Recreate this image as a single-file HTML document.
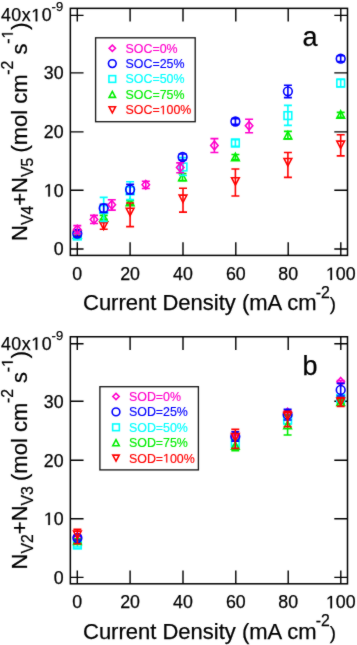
<!DOCTYPE html>
<html><head><meta charset="utf-8"><style>
html,body{margin:0;padding:0;background:#fff;width:357px;height:645px;overflow:hidden}
svg{display:block;will-change:transform}
text{font-family:"Liberation Sans", sans-serif;fill:#000;stroke:#000;stroke-width:0.25px}
.tk{font-size:17.8px}
.sup9{font-size:13px}
.ttl{font-size:22px}
.ts{font-size:15.8px}
.pl{font-size:27px}
.lg{font-size:12.4px;stroke-width:0.15px}
</style></head><body>
<svg width="357" height="645" viewBox="0 0 357 645">
<defs><filter id="soft" x="0" y="0" width="357" height="645" filterUnits="userSpaceOnUse" color-interpolation-filters="sRGB"><feConvolveMatrix order="3" kernelMatrix="1 2 1 2 28 2 1 2 1" divisor="40" edgeMode="duplicate"/></filter></defs>
<g filter="url(#soft)">
<rect width="357" height="645" fill="#fff"/>
<rect x="70.35" y="8.35" width="277.15" height="247.05" fill="none" stroke="#000" stroke-width="1.5"/>
<path d="M70.35 249.00H83.55M347.5 249.00H334.30M70.35 190.30H83.55M347.5 190.30H334.30M70.35 131.90H83.55M347.5 131.90H334.30M70.35 72.90H83.55M347.5 72.90H334.30M70.35 15.40H83.55M347.5 15.40H334.30M77.30 255.40V242.20M77.30 8.35V21.55M130.10 255.40V242.20M130.10 8.35V21.55M183.00 255.40V242.20M183.00 8.35V21.55M235.80 255.40V242.20M235.80 8.35V21.55M288.20 255.40V242.20M288.20 8.35V21.55M340.80 255.40V242.20M340.80 8.35V21.55" stroke="#000" stroke-width="1.4" fill="none"/>
<text x="63.6" y="255.20" text-anchor="end" class="tk o1">0</text>
<text x="63.6" y="196.50" text-anchor="end" class="tk o1"> 0</text>
<text x="63.6" y="138.10" text-anchor="end" class="tk o1">20</text>
<text x="63.6" y="79.10" text-anchor="end" class="tk o1">30</text>
<text x="0.9" y="21.30" class="tk o1" style="letter-spacing:0.55px">40x 0</text>
<text x="51.6" y="11.40" class="sup9">-9</text>
<text x="77.30" y="279.90" text-anchor="middle" class="tk o1">0</text>
<text x="130.10" y="279.90" text-anchor="middle" class="tk o1">20</text>
<text x="183.00" y="279.90" text-anchor="middle" class="tk o1">40</text>
<text x="235.80" y="279.90" text-anchor="middle" class="tk o1">60</text>
<text x="288.20" y="279.90" text-anchor="middle" class="tk o1">80</text>
<text x="340.80" y="279.90" text-anchor="middle" class="tk o1"> 00</text>
<text x="83.0" y="310.30" class="ttl">Current Density (mA cm<tspan class="ts" dx="-0.8" dy="-12.7">-2</tspan><tspan dy="12.7" style="font-size:18.5px">)</tspan></text>
<text x="302.6" y="46.30" class="pl">a</text>
<text transform="translate(27.1 241.00) rotate(-90)" class="ttl o1">N<tspan class="ts" dy="6.3">V4</tspan><tspan dy="-6.3">+N</tspan><tspan class="ts" dy="6.3">V5</tspan><tspan dx="-1" dy="-6.3"> (mol cm</tspan><tspan class="ts" dx="-0.3" dy="-14.3">-2</tspan><tspan dy="14.3"> s</tspan><tspan class="ts" dx="-0.3" dy="-14.3">- </tspan><tspan dy="14.3">)</tspan></text>
<rect x="95.6" y="37.8" width="99.60" height="83.90" fill="#fff" stroke="#1a1a1a" stroke-width="1.35"/>
<path d="M112.30 45.10L115.45 48.20L112.30 51.30L109.15 48.20Z" fill="none" stroke="#ff00cc" stroke-width="1.6"/>
<text x="125.6" y="52.60" class="lg o1" style="fill:#ff00cc;stroke:#ff00cc">SOC=0%</text>
<circle cx="112.30" cy="63.60" r="3.85" fill="none" stroke="#0000ff" stroke-width="1.6"/>
<text x="125.6" y="68.00" class="lg o1" style="fill:#0000ff;stroke:#0000ff">SOC=25%</text>
<rect x="108.95" y="75.65" width="6.70" height="6.70" fill="none" stroke="#00ffff" stroke-width="1.6"/>
<text x="125.6" y="83.40" class="lg o1" style="fill:#00ffff;stroke:#00ffff">SOC=50%</text>
<path d="M112.30 91.40L115.50 97.40L109.10 97.40Z" fill="none" stroke="#00ee00" stroke-width="1.6" stroke-linejoin="miter"/>
<text x="125.6" y="98.80" class="lg o1" style="fill:#00ee00;stroke:#00ee00">SOC=75%</text>
<path d="M112.30 112.80L115.50 106.80L109.10 106.80Z" fill="none" stroke="#ff0000" stroke-width="1.6" stroke-linejoin="miter"/>
<text x="125.6" y="114.20" class="lg o1" style="fill:#ff0000;stroke:#ff0000">SOC= 00%</text>
<path d="M77.30 232.60V236.60M73.30 232.60H81.30M73.30 236.60H81.30" fill="none" stroke="#00ee00" stroke-width="1.6"/>
<path d="M77.30 230.90L81.15 238.30L73.45 238.30Z" fill="none" stroke="#00ee00" stroke-width="1.6" stroke-linejoin="miter"/>
<path d="M103.70 215.40V219.40M99.70 215.40H107.70M99.70 219.40H107.70" fill="none" stroke="#00ee00" stroke-width="1.6"/>
<path d="M103.70 213.70L107.55 221.10L99.85 221.10Z" fill="none" stroke="#00ee00" stroke-width="1.6" stroke-linejoin="miter"/>
<path d="M130.10 200.80V204.60M126.10 200.80H134.10M126.10 204.60H134.10" fill="none" stroke="#00ee00" stroke-width="1.6"/>
<path d="M130.10 198.30L133.95 205.70L126.25 205.70Z" fill="none" stroke="#00ee00" stroke-width="1.6" stroke-linejoin="miter"/>
<path d="M182.50 173.60V180.60M178.50 173.60H186.50M178.50 180.60H186.50" fill="none" stroke="#00ee00" stroke-width="1.6"/>
<path d="M182.50 173.30L186.35 180.70L178.65 180.70Z" fill="none" stroke="#00ee00" stroke-width="1.6" stroke-linejoin="miter"/>
<path d="M235.40 154.50V159.50M231.40 154.50H239.40M231.40 159.50H239.40" fill="none" stroke="#00ee00" stroke-width="1.6"/>
<path d="M235.40 153.30L239.25 160.70L231.55 160.70Z" fill="none" stroke="#00ee00" stroke-width="1.6" stroke-linejoin="miter"/>
<path d="M287.90 131.40V139.00M283.90 131.40H291.90M283.90 139.00H291.90" fill="none" stroke="#00ee00" stroke-width="1.6"/>
<path d="M287.90 131.50L291.75 138.90L284.05 138.90Z" fill="none" stroke="#00ee00" stroke-width="1.6" stroke-linejoin="miter"/>
<path d="M340.70 112.40V117.20M336.70 112.40H344.70M336.70 117.20H344.70" fill="none" stroke="#00ee00" stroke-width="1.6"/>
<path d="M340.70 110.80L344.55 118.20L336.85 118.20Z" fill="none" stroke="#00ee00" stroke-width="1.6" stroke-linejoin="miter"/>
<path d="M77.30 233.00V237.00M73.30 233.00H81.30M73.30 237.00H81.30" fill="none" stroke="#ff0000" stroke-width="1.6"/>
<path d="M77.30 238.70L81.15 231.30L73.45 231.30Z" fill="none" stroke="#ff0000" stroke-width="1.6" stroke-linejoin="miter"/>
<path d="M103.70 222.80V229.20M99.70 222.80H107.70M99.70 229.20H107.70" fill="none" stroke="#ff0000" stroke-width="1.6"/>
<path d="M103.70 229.50L107.55 222.10L99.85 222.10Z" fill="none" stroke="#ff0000" stroke-width="1.6" stroke-linejoin="miter"/>
<path d="M130.10 203.00V226.60M126.10 203.00H134.10M126.10 226.60H134.10" fill="none" stroke="#ff0000" stroke-width="1.6"/>
<path d="M130.10 215.70L133.95 208.30L126.25 208.30Z" fill="none" stroke="#ff0000" stroke-width="1.6" stroke-linejoin="miter"/>
<path d="M183.00 188.30V212.10M179.00 188.30H187.00M179.00 212.10H187.00" fill="none" stroke="#ff0000" stroke-width="1.6"/>
<path d="M183.00 202.50L186.85 195.10L179.15 195.10Z" fill="none" stroke="#ff0000" stroke-width="1.6" stroke-linejoin="miter"/>
<path d="M235.40 169.00V196.00M231.40 169.00H239.40M231.40 196.00H239.40" fill="none" stroke="#ff0000" stroke-width="1.6"/>
<path d="M235.40 185.10L239.25 177.70L231.55 177.70Z" fill="none" stroke="#ff0000" stroke-width="1.6" stroke-linejoin="miter"/>
<path d="M287.90 152.50V177.40M283.90 152.50H291.90M283.90 177.40H291.90" fill="none" stroke="#ff0000" stroke-width="1.6"/>
<path d="M287.90 165.90L291.75 158.50L284.05 158.50Z" fill="none" stroke="#ff0000" stroke-width="1.6" stroke-linejoin="miter"/>
<path d="M340.70 134.80V155.90M336.70 134.80H344.70M336.70 155.90H344.70" fill="none" stroke="#ff0000" stroke-width="1.6"/>
<path d="M340.70 148.50L344.55 141.10L336.85 141.10Z" fill="none" stroke="#ff0000" stroke-width="1.6" stroke-linejoin="miter"/>
<path d="M77.30 234.00V238.00M73.30 234.00H81.30M73.30 238.00H81.30" fill="none" stroke="#00ffff" stroke-width="1.6"/>
<rect x="73.45" y="232.15" width="7.70" height="7.70" fill="none" stroke="#00ffff" stroke-width="1.6"/>
<path d="M103.70 197.40V221.40M99.70 197.40H107.70M99.70 221.40H107.70" fill="none" stroke="#00ffff" stroke-width="1.6"/>
<rect x="99.85" y="205.55" width="7.70" height="7.70" fill="none" stroke="#00ffff" stroke-width="1.6"/>
<path d="M130.10 181.80V199.60M126.10 181.80H134.10M126.10 199.60H134.10" fill="none" stroke="#00ffff" stroke-width="1.6"/>
<rect x="126.25" y="186.95" width="7.70" height="7.70" fill="none" stroke="#00ffff" stroke-width="1.6"/>
<path d="M183.00 157.60V175.50M179.00 157.60H187.00M179.00 175.50H187.00" fill="none" stroke="#00ffff" stroke-width="1.6"/>
<rect x="179.15" y="163.15" width="7.70" height="7.70" fill="none" stroke="#00ffff" stroke-width="1.6"/>
<path d="M235.40 139.60V146.40M231.40 139.60H239.40M231.40 146.40H239.40" fill="none" stroke="#00ffff" stroke-width="1.6"/>
<rect x="231.55" y="139.15" width="7.70" height="7.70" fill="none" stroke="#00ffff" stroke-width="1.6"/>
<path d="M287.90 105.40V125.40M283.90 105.40H291.90M283.90 125.40H291.90" fill="none" stroke="#00ffff" stroke-width="1.6"/>
<rect x="284.05" y="111.75" width="7.70" height="7.70" fill="none" stroke="#00ffff" stroke-width="1.6"/>
<path d="M340.70 79.40V86.80M336.70 79.40H344.70M336.70 86.80H344.70" fill="none" stroke="#00ffff" stroke-width="1.6"/>
<rect x="336.85" y="79.25" width="7.70" height="7.70" fill="none" stroke="#00ffff" stroke-width="1.6"/>
<path d="M77.30 230.60V236.60M73.30 230.60H81.30M73.30 236.60H81.30" fill="none" stroke="#0000ff" stroke-width="1.6"/>
<circle cx="77.30" cy="233.60" r="4.35" fill="none" stroke="#0000ff" stroke-width="1.6"/>
<path d="M103.70 204.20V212.40M99.70 204.20H107.70M99.70 212.40H107.70" fill="none" stroke="#0000ff" stroke-width="1.6"/>
<circle cx="103.70" cy="208.20" r="4.35" fill="none" stroke="#0000ff" stroke-width="1.6"/>
<path d="M130.10 184.40V194.00M126.10 184.40H134.10M126.10 194.00H134.10" fill="none" stroke="#0000ff" stroke-width="1.6"/>
<circle cx="130.10" cy="189.60" r="4.35" fill="none" stroke="#0000ff" stroke-width="1.6"/>
<path d="M182.60 154.00V160.00M178.60 154.00H186.60M178.60 160.00H186.60" fill="none" stroke="#0000ff" stroke-width="1.6"/>
<circle cx="182.60" cy="157.00" r="4.35" fill="none" stroke="#0000ff" stroke-width="1.6"/>
<path d="M235.40 118.60V124.40M231.40 118.60H239.40M231.40 124.40H239.40" fill="none" stroke="#0000ff" stroke-width="1.6"/>
<circle cx="235.40" cy="121.50" r="4.35" fill="none" stroke="#0000ff" stroke-width="1.6"/>
<path d="M287.90 85.30V97.60M283.90 85.30H291.90M283.90 97.60H291.90" fill="none" stroke="#0000ff" stroke-width="1.6"/>
<circle cx="287.90" cy="91.30" r="4.35" fill="none" stroke="#0000ff" stroke-width="1.6"/>
<path d="M340.70 55.80V61.60M336.70 55.80H344.70M336.70 61.60H344.70" fill="none" stroke="#0000ff" stroke-width="1.6"/>
<circle cx="340.70" cy="58.70" r="4.35" fill="none" stroke="#0000ff" stroke-width="1.6"/>
<path d="M77.30 225.60V233.60M73.30 225.60H81.30M73.30 233.60H81.30" fill="none" stroke="#ff00cc" stroke-width="1.6"/>
<path d="M77.30 225.20L81.00 229.50L77.30 233.80L73.60 229.50Z" fill="none" stroke="#ff00cc" stroke-width="1.6"/>
<path d="M94.00 215.40V223.50M90.00 215.40H98.00M90.00 223.50H98.00" fill="none" stroke="#ff00cc" stroke-width="1.6"/>
<path d="M94.00 215.10L97.70 219.40L94.00 223.70L90.30 219.40Z" fill="none" stroke="#ff00cc" stroke-width="1.6"/>
<path d="M111.80 199.80V210.10M107.80 199.80H115.80M107.80 210.10H115.80" fill="none" stroke="#ff00cc" stroke-width="1.6"/>
<path d="M111.80 200.50L115.50 204.80L111.80 209.10L108.10 204.80Z" fill="none" stroke="#ff00cc" stroke-width="1.6"/>
<path d="M145.80 181.20V188.50M141.80 181.20H149.80M141.80 188.50H149.80" fill="none" stroke="#ff00cc" stroke-width="1.6"/>
<path d="M145.80 180.50L149.50 184.80L145.80 189.10L142.10 184.80Z" fill="none" stroke="#ff00cc" stroke-width="1.6"/>
<path d="M180.20 162.90V172.70M176.20 162.90H184.20M176.20 172.70H184.20" fill="none" stroke="#ff00cc" stroke-width="1.6"/>
<path d="M180.20 163.10L183.90 167.40L180.20 171.70L176.50 167.40Z" fill="none" stroke="#ff00cc" stroke-width="1.6"/>
<path d="M214.40 138.60V152.50M210.40 138.60H218.40M210.40 152.50H218.40" fill="none" stroke="#ff00cc" stroke-width="1.6"/>
<path d="M214.40 141.10L218.10 145.40L214.40 149.70L210.70 145.40Z" fill="none" stroke="#ff00cc" stroke-width="1.6"/>
<path d="M249.10 119.30V132.70M245.10 119.30H253.10M245.10 132.70H253.10" fill="none" stroke="#ff00cc" stroke-width="1.6"/>
<path d="M249.10 121.50L252.80 125.80L249.10 130.10L245.40 125.80Z" fill="none" stroke="#ff00cc" stroke-width="1.6"/>
<rect x="70.35" y="336.75" width="277.15" height="247.05" fill="none" stroke="#000" stroke-width="1.5"/>
<path d="M70.35 577.40H83.55M347.5 577.40H334.30M70.35 518.70H83.55M347.5 518.70H334.30M70.35 460.30H83.55M347.5 460.30H334.30M70.35 401.30H83.55M347.5 401.30H334.30M70.35 343.80H83.55M347.5 343.80H334.30M77.30 583.80V570.60M77.30 336.75V349.95M130.10 583.80V570.60M130.10 336.75V349.95M183.00 583.80V570.60M183.00 336.75V349.95M235.80 583.80V570.60M235.80 336.75V349.95M288.20 583.80V570.60M288.20 336.75V349.95M340.80 583.80V570.60M340.80 336.75V349.95" stroke="#000" stroke-width="1.4" fill="none"/>
<text x="63.6" y="583.60" text-anchor="end" class="tk o1">0</text>
<text x="63.6" y="524.90" text-anchor="end" class="tk o1"> 0</text>
<text x="63.6" y="466.50" text-anchor="end" class="tk o1">20</text>
<text x="63.6" y="407.50" text-anchor="end" class="tk o1">30</text>
<text x="0.9" y="349.70" class="tk o1" style="letter-spacing:0.55px">40x 0</text>
<text x="51.6" y="339.80" class="sup9">-9</text>
<text x="77.30" y="608.30" text-anchor="middle" class="tk o1">0</text>
<text x="130.10" y="608.30" text-anchor="middle" class="tk o1">20</text>
<text x="183.00" y="608.30" text-anchor="middle" class="tk o1">40</text>
<text x="235.80" y="608.30" text-anchor="middle" class="tk o1">60</text>
<text x="288.20" y="608.30" text-anchor="middle" class="tk o1">80</text>
<text x="340.80" y="608.30" text-anchor="middle" class="tk o1"> 00</text>
<text x="83.0" y="638.70" class="ttl">Current Density (mA cm<tspan class="ts" dx="-0.8" dy="-12.7">-2</tspan><tspan dy="12.7" style="font-size:18.5px">)</tspan></text>
<text x="302.6" y="374.70" class="pl">b</text>
<text transform="translate(27.1 569.40) rotate(-90)" class="ttl o1">N<tspan class="ts" dy="6.3">V2</tspan><tspan dy="-6.3">+N</tspan><tspan class="ts" dy="6.3">V3</tspan><tspan dx="-1" dy="-6.3"> (mol cm</tspan><tspan class="ts" dx="-0.3" dy="-14.3">-2</tspan><tspan dy="14.3"> s</tspan><tspan class="ts" dx="-0.3" dy="-14.3">- </tspan><tspan dy="14.3">)</tspan></text>
<rect x="99.9" y="386.7" width="98.50" height="83.20" fill="#fff" stroke="#1a1a1a" stroke-width="1.35"/>
<path d="M116.00 393.40L119.15 396.50L116.00 399.60L112.85 396.50Z" fill="none" stroke="#ff00cc" stroke-width="1.6"/>
<text x="129.0" y="400.90" class="lg o1" style="fill:#ff00cc;stroke:#ff00cc">SOD=0%</text>
<circle cx="116.00" cy="411.90" r="3.85" fill="none" stroke="#0000ff" stroke-width="1.6"/>
<text x="129.0" y="416.30" class="lg o1" style="fill:#0000ff;stroke:#0000ff">SOD=25%</text>
<rect x="112.65" y="423.95" width="6.70" height="6.70" fill="none" stroke="#00ffff" stroke-width="1.6"/>
<text x="129.0" y="431.70" class="lg o1" style="fill:#00ffff;stroke:#00ffff">SOD=50%</text>
<path d="M116.00 439.70L119.20 445.70L112.80 445.70Z" fill="none" stroke="#00ee00" stroke-width="1.6" stroke-linejoin="miter"/>
<text x="129.0" y="447.10" class="lg o1" style="fill:#00ee00;stroke:#00ee00">SOD=75%</text>
<path d="M116.00 461.10L119.20 455.10L112.80 455.10Z" fill="none" stroke="#ff0000" stroke-width="1.6" stroke-linejoin="miter"/>
<text x="129.0" y="462.50" class="lg o1" style="fill:#ff0000;stroke:#ff0000">SOD= 00%</text>
<path d="M77.40 535.00V539.00M73.40 535.00H81.40M73.40 539.00H81.40" fill="none" stroke="#ff00cc" stroke-width="1.6"/>
<path d="M77.40 532.70L81.10 537.00L77.40 541.30L73.70 537.00Z" fill="none" stroke="#ff00cc" stroke-width="1.6"/>
<path d="M235.30 435.00V439.00M231.30 435.00H239.30M231.30 439.00H239.30" fill="none" stroke="#ff00cc" stroke-width="1.6"/>
<path d="M235.30 432.70L239.00 437.00L235.30 441.30L231.60 437.00Z" fill="none" stroke="#ff00cc" stroke-width="1.6"/>
<path d="M287.60 410.50V414.50M283.60 410.50H291.60M283.60 414.50H291.60" fill="none" stroke="#ff00cc" stroke-width="1.6"/>
<path d="M287.60 408.20L291.30 412.50L287.60 416.80L283.90 412.50Z" fill="none" stroke="#ff00cc" stroke-width="1.6"/>
<path d="M340.70 380.60V383.00M336.70 380.60H344.70M336.70 383.00H344.70" fill="none" stroke="#ff00cc" stroke-width="1.6"/>
<path d="M340.70 377.40L344.40 381.70L340.70 386.00L337.00 381.70Z" fill="none" stroke="#ff00cc" stroke-width="1.6"/>
<path d="M77.40 543.00V547.00M73.40 543.00H81.40M73.40 547.00H81.40" fill="none" stroke="#00ffff" stroke-width="1.6"/>
<rect x="73.55" y="541.15" width="7.70" height="7.70" fill="none" stroke="#00ffff" stroke-width="1.6"/>
<path d="M235.30 441.20V445.20M231.30 441.20H239.30M231.30 445.20H239.30" fill="none" stroke="#00ffff" stroke-width="1.6"/>
<rect x="231.45" y="439.35" width="7.70" height="7.70" fill="none" stroke="#00ffff" stroke-width="1.6"/>
<path d="M287.60 416.00V424.00M283.60 416.00H291.60M283.60 424.00H291.60" fill="none" stroke="#00ffff" stroke-width="1.6"/>
<rect x="283.75" y="416.15" width="7.70" height="7.70" fill="none" stroke="#00ffff" stroke-width="1.6"/>
<path d="M340.70 396.50V400.50M336.70 396.50H344.70M336.70 400.50H344.70" fill="none" stroke="#00ffff" stroke-width="1.6"/>
<rect x="336.85" y="394.65" width="7.70" height="7.70" fill="none" stroke="#00ffff" stroke-width="1.6"/>
<path d="M77.40 538.80V542.80M73.40 538.80H81.40M73.40 542.80H81.40" fill="none" stroke="#00ee00" stroke-width="1.6"/>
<path d="M77.40 537.10L81.25 544.50L73.55 544.50Z" fill="none" stroke="#00ee00" stroke-width="1.6" stroke-linejoin="miter"/>
<path d="M235.30 440.00V450.80M231.30 440.00H239.30M231.30 450.80H239.30" fill="none" stroke="#00ee00" stroke-width="1.6"/>
<path d="M235.30 441.90L239.15 449.30L231.45 449.30Z" fill="none" stroke="#00ee00" stroke-width="1.6" stroke-linejoin="miter"/>
<path d="M287.60 415.00V435.00M283.60 415.00H291.60M283.60 435.00H291.60" fill="none" stroke="#00ee00" stroke-width="1.6"/>
<path d="M287.60 421.30L291.45 428.70L283.75 428.70Z" fill="none" stroke="#00ee00" stroke-width="1.6" stroke-linejoin="miter"/>
<path d="M340.70 399.80V403.80M336.70 399.80H344.70M336.70 403.80H344.70" fill="none" stroke="#00ee00" stroke-width="1.6"/>
<path d="M340.70 398.10L344.55 405.50L336.85 405.50Z" fill="none" stroke="#00ee00" stroke-width="1.6" stroke-linejoin="miter"/>
<path d="M77.40 536.00V540.00M73.40 536.00H81.40M73.40 540.00H81.40" fill="none" stroke="#0000ff" stroke-width="1.6"/>
<circle cx="77.40" cy="538.00" r="4.35" fill="none" stroke="#0000ff" stroke-width="1.6"/>
<path d="M235.30 431.80V441.20M231.30 431.80H239.30M231.30 441.20H239.30" fill="none" stroke="#0000ff" stroke-width="1.6"/>
<circle cx="235.30" cy="436.50" r="4.35" fill="none" stroke="#0000ff" stroke-width="1.6"/>
<path d="M287.60 409.20V420.00M283.60 409.20H291.60M283.60 420.00H291.60" fill="none" stroke="#0000ff" stroke-width="1.6"/>
<circle cx="287.60" cy="414.70" r="4.35" fill="none" stroke="#0000ff" stroke-width="1.6"/>
<path d="M340.70 383.40V396.00M336.70 383.40H344.70M336.70 396.00H344.70" fill="none" stroke="#0000ff" stroke-width="1.6"/>
<circle cx="340.70" cy="389.90" r="4.35" fill="none" stroke="#0000ff" stroke-width="1.6"/>
<path d="M77.40 529.40V543.80M73.40 529.40H81.40M73.40 543.80H81.40" fill="none" stroke="#ff0000" stroke-width="1.6"/>
<path d="M77.40 538.50L81.25 531.10L73.55 531.10Z" fill="none" stroke="#ff0000" stroke-width="1.6" stroke-linejoin="miter"/>
<path d="M235.30 429.40V448.40M231.30 429.40H239.30M231.30 448.40H239.30" fill="none" stroke="#ff0000" stroke-width="1.6"/>
<path d="M235.30 440.90L239.15 433.50L231.45 433.50Z" fill="none" stroke="#ff0000" stroke-width="1.6" stroke-linejoin="miter"/>
<path d="M287.60 411.30V426.60M283.60 411.30H291.60M283.60 426.60H291.60" fill="none" stroke="#ff0000" stroke-width="1.6"/>
<path d="M287.60 419.90L291.45 412.50L283.75 412.50Z" fill="none" stroke="#ff0000" stroke-width="1.6" stroke-linejoin="miter"/>
<path d="M340.70 397.60V406.40M336.70 397.60H344.70M336.70 406.40H344.70" fill="none" stroke="#ff0000" stroke-width="1.6"/>
<path d="M340.70 405.50L344.55 398.10L336.85 398.10Z" fill="none" stroke="#ff0000" stroke-width="1.6" stroke-linejoin="miter"/>
<path transform="translate(43.819 196.500) scale(0.00869 -0.00869)" d="M515 0L696 0L696 1409L530 1409L197 1180L197 1010L515 1237Z" style="fill:rgb(0, 0, 0);stroke:rgb(0, 0, 0);stroke-width:28.8"/>
<path transform="translate(31.212 21.300) scale(0.00869 -0.00869)" d="M515 0L696 0L696 1409L530 1409L197 1180L197 1010L515 1237Z" style="fill:rgb(0, 0, 0);stroke:rgb(0, 0, 0);stroke-width:28.8"/>
<path transform="translate(325.964 279.900) scale(0.00869 -0.00869)" d="M515 0L696 0L696 1409L530 1409L197 1180L197 1010L515 1237Z" style="fill:rgb(0, 0, 0);stroke:rgb(0, 0, 0);stroke-width:28.8"/>
<path transform="translate(27.1 241.00) rotate(-90) translate(202.447 -14.300) scale(0.00771 -0.00771)" d="M515 0L696 0L696 1409L530 1409L197 1180L197 1010L515 1237Z" style="fill:rgb(0, 0, 0);stroke:rgb(0, 0, 0);stroke-width:32.4"/>
<path transform="translate(159.678 114.200) scale(0.00605 -0.00605)" d="M515 0L696 0L696 1409L530 1409L197 1180L197 1010L515 1237Z" style="fill:rgb(255, 0, 0);stroke:rgb(255, 0, 0);stroke-width:24.8"/>
<path transform="translate(43.819 524.900) scale(0.00869 -0.00869)" d="M515 0L696 0L696 1409L530 1409L197 1180L197 1010L515 1237Z" style="fill:rgb(0, 0, 0);stroke:rgb(0, 0, 0);stroke-width:28.8"/>
<path transform="translate(31.212 349.700) scale(0.00869 -0.00869)" d="M515 0L696 0L696 1409L530 1409L197 1180L197 1010L515 1237Z" style="fill:rgb(0, 0, 0);stroke:rgb(0, 0, 0);stroke-width:28.8"/>
<path transform="translate(325.964 608.300) scale(0.00869 -0.00869)" d="M515 0L696 0L696 1409L530 1409L197 1180L197 1010L515 1237Z" style="fill:rgb(0, 0, 0);stroke:rgb(0, 0, 0);stroke-width:28.8"/>
<path transform="translate(27.1 569.40) rotate(-90) translate(202.447 -14.300) scale(0.00771 -0.00771)" d="M515 0L696 0L696 1409L530 1409L197 1180L197 1010L515 1237Z" style="fill:rgb(0, 0, 0);stroke:rgb(0, 0, 0);stroke-width:32.4"/>
<path transform="translate(163.078 462.500) scale(0.00605 -0.00605)" d="M515 0L696 0L696 1409L530 1409L197 1180L197 1010L515 1237Z" style="fill:rgb(255, 0, 0);stroke:rgb(255, 0, 0);stroke-width:24.8"/>
</g>
</svg>
</body></html>
